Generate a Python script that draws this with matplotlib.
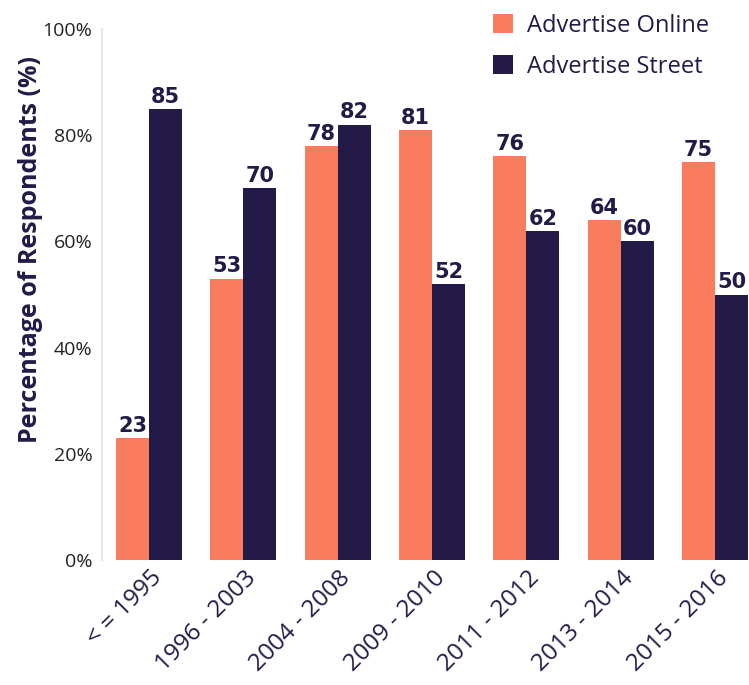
import matplotlib.pyplot as plt
import matplotlib.transforms as mtransforms
import numpy as np

plt.rcParams['font.family'] = ['Open Sans', 'DejaVu Sans']

periods = ['< = 1995', '1996 - 2003', '2004 - 2008', '2009 - 2010',
           '2011 - 2012', '2013 - 2014', '2015 - 2016']
online = [23, 53, 78, 81, 76, 64, 75]
street = [85, 70, 82, 52, 62, 60, 50]

orange = '#F97C5E'
navy = '#231A47'

fig = plt.figure(figsize=(7.49, 6.85), dpi=100)
ax = fig.add_axes([102 / 749, 1 - 560 / 685, 1 - 102 / 749, 531 / 685])

x = np.arange(len(periods))
w = 0.35
b1 = ax.bar(x - w / 2, online, w, color=orange, label='Advertise Online')
b2 = ax.bar(x + w / 2, street, w, color=navy, label='Advertise Street')

# value labels above every bar
for bars in (b1, b2):
    for rect in bars:
        h = rect.get_height()
        ax.annotate(f'{h:.0f}', (rect.get_x() + rect.get_width() / 2, h),
                    xytext=(0, 1.5), textcoords='offset points',
                    ha='center', va='bottom', fontsize=15, fontweight='bold',
                    color=navy, family='DejaVu Sans')

ax.set_xlim(-0.5, 6.36)
ax.set_ylim(0, 100)
ax.set_yticks(range(0, 101, 20))
ax.set_yticklabels([f'{v}%' for v in range(0, 101, 20)], fontsize=14, color='#222222')
ax.set_xticks(x)
ax.set_xticklabels(periods, rotation=45, ha='right', va='top', rotation_mode='anchor',
                   fontsize=17.5, color=navy)
ax.tick_params(axis='both', length=0)
ax.tick_params(axis='y', pad=7)
ax.tick_params(axis='x', pad=0)

shift = mtransforms.ScaledTranslation(0.01, -0.06, fig.dpi_scale_trans)
for lab in ax.get_xticklabels():
    lab.set_transform(lab.get_transform() + shift)

for s in ['top', 'right', 'bottom']:
    ax.spines[s].set_visible(False)
ax.spines['left'].set_color('#E6E6E6')
ax.spines['left'].set_linewidth(1.5)

ax.set_ylabel('Percentage of Respondents (%)', fontsize=18, fontweight='bold',
              color=navy)
ax.yaxis.set_label_coords(-0.091, 0.585)

leg = ax.legend(loc='upper left', bbox_to_anchor=(493 / 749, 1 - 14 / 685),
                bbox_transform=fig.transFigure, frameon=False,
                fontsize=17, handlelength=0.85, handleheight=0.85,
                labelspacing=0.7, handletextpad=0.6, borderpad=0,
                borderaxespad=0, labelcolor=navy)

fig.savefig('out.png', dpi=100)
